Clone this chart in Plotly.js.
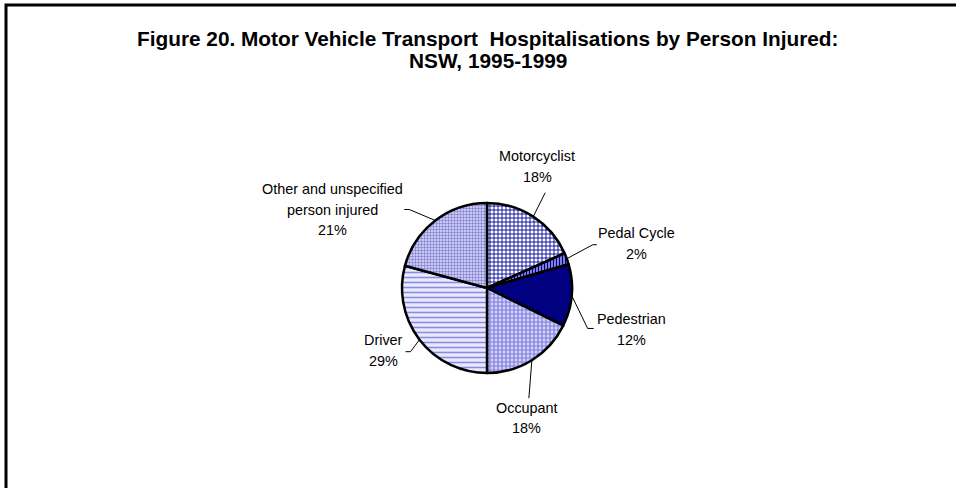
<!DOCTYPE html>
<html>
<head>
<meta charset="utf-8">
<script src="https://cdn.plot.ly/plotly-3.0.1.min.js"></script>
<style>
html,body{margin:0;padding:0;background:#fff;}
#chart{width:956px;height:488px;}
</style>
</head>
<body>
<div id="chart"></div>
<script>
// ---- data ----
const categories = ['Motorcyclist', 'Pedal Cycle', 'Pedestrian', 'Occupant', 'Driver', 'Other and unspecified<br>person injured'];
const values = [18.3, 2.2, 11.8, 17.7, 29.2, 20.8];
const titleLines = ['Figure 20. Motor Vehicle Transport\u00a0 Hospitalisations by Person Injured:', 'NSW, 1995-1999'];

// ---- styles ----
const patternShapes = ['+', '|', '', '+', '-', '+'];
const fgColors = ['#000099', '#000080', '#000080', '#7c7cdc', '#8a8ade', '#7777cc'];
const bgColors = ['#ffffff', '#a8a8ff', '#000080', '#d4d4fa', '#e8e8ff', '#c8c8f2'];
const patSizes = [4, 3, 4, 4, 5, 3];
const patSolid = [0.4, 0.5, 0.3, 0.5, 0.3, 0.35];
const sliceColors = ['#ffffff', '#a8a8ff', '#000080', '#d4d4fa', '#e8e8ff', '#c8c8f2'];

// ---- layout geometry (pixels) ----
const W = 956, H = 488;
const cx = 487, cy = 288, R = 85;
const labelPos = [
  {t: [4, -50], l: [12, -24], h: 0},
  {t: [70, -15], l: [26, -14], h: 4},
  {t: [60, 34], l: [16, 33], h: 6},
  {t: [-5, 58], l: [-3, 38], h: 0},
  {t: [-36, 11], l: [-9, 12], h: -5},
  {t: [-103, -11], l: [-26, -11], h: -5}
];
const lineGap = 20.5;
const px = x => x / W, py = y => 1 - y / H;

const total = values.reduce((a, b) => a + b, 0);
const annotations = [];
const shapes = [{
  type: 'rect', xref: 'paper', yref: 'paper',
  x0: px(6), x1: 1.05, y0: -0.05, y1: py(5),
  line: {color: '#000', width: 3}, fillcolor: 'rgba(0,0,0,0)', layer: 'below'
}];

// title lines
titleLines.forEach((t, i) => {
  annotations.push({
    text: '<b>' + t + '</b>', x: px(487.5), y: py(38 + i * 22), xref: 'paper', yref: 'paper',
    xanchor: 'center', yanchor: 'middle', showarrow: false,
    font: {family: 'Liberation Sans, Arial, sans-serif', size: 20.8, color: '#000'}
  });
});

let cum = 0;
values.forEach((v, i) => {
  const th = (cum + v / 2) / total * 2 * Math.PI;
  cum += v;
  const ex = cx + R * Math.sin(th), ey = cy - R * Math.cos(th);
  const o = labelPos[i];
  const lx = ex + o.l[0], ly = ey + o.l[1];
  shapes.push({
    type: 'path', xref: 'paper', yref: 'paper',
    path: `M ${px(ex)} ${py(ey)} L ${px(lx)} ${py(ly)} L ${px(lx + o.h)} ${py(ly)}`,
    line: {color: '#000', width: 1}
  });
  const pct = Math.round(v / total * 100) + '%';
  const parts = categories[i].split('<br>').concat([pct]);
  const tx = ex + o.t[0], tyc = ey + o.t[1];
  const y0 = tyc - (parts.length - 1) * lineGap / 2;
  parts.forEach((p, k) => {
    annotations.push({
      text: p, x: px(tx), y: py(y0 + k * lineGap), xref: 'paper', yref: 'paper',
      xanchor: 'center', yanchor: 'middle', showarrow: false,
      font: {family: 'Liberation Sans, Arial, sans-serif', size: 14.4, color: '#000'}
    });
  });
});

const trace = {
  type: 'pie',
  labels: categories,
  values: values,
  sort: false,
  direction: 'clockwise',
  rotation: 0,
  textinfo: 'none',
  hoverinfo: 'none',
  showlegend: false,
  domain: {x: [px(cx - R), px(cx + R)], y: [py(cy + R), py(cy - R)]},
  marker: {
    colors: sliceColors,
    line: {color: '#000', width: 2.5},
    pattern: {
      shape: patternShapes,
      fgcolor: fgColors,
      bgcolor: bgColors,
      size: patSizes,
      solidity: patSolid,
      fillmode: 'replace'
    }
  }
};

const layout = {
  width: W, height: H,
  margin: {l: 0, r: 0, t: 0, b: 0},
  paper_bgcolor: '#fff',
  plot_bgcolor: '#fff',
  showlegend: false,
  annotations: annotations,
  shapes: shapes
};

Plotly.newPlot('chart', [trace], layout, {displayModeBar: false, staticPlot: true});
</script>
</body>
</html>
